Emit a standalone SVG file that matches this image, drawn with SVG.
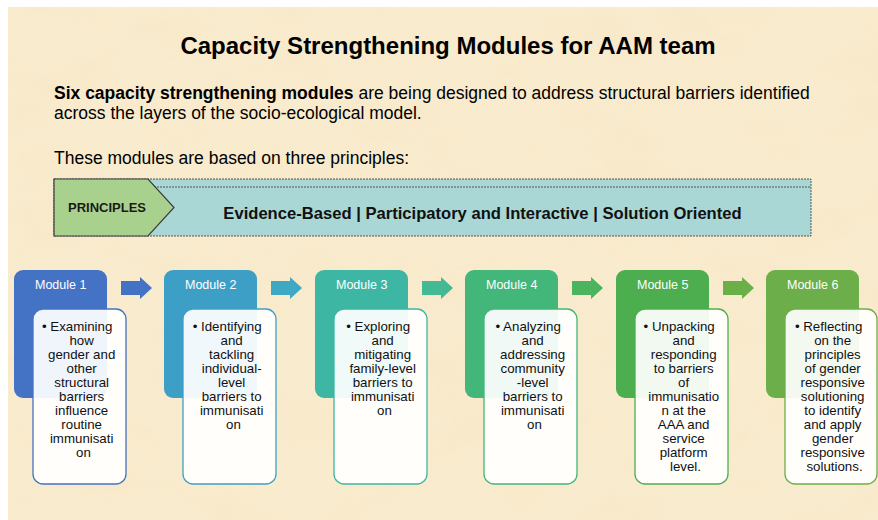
<svg xmlns="http://www.w3.org/2000/svg" width="878" height="520" viewBox="0 0 878 520">
  <defs>
    <!-- mottled parchment texture -->
    <filter id="paper" x="0" y="0" width="100%" height="100%">
      <feTurbulence type="fractalNoise" baseFrequency="0.012 0.02" numOctaves="4" seed="7" result="n"/>
      <feColorMatrix in="n" type="matrix" values="0 0 0 0 0.91  0 0 0 0 0.78  0 0 0 0 0.56  1.8 0 0 0 -0.75"/>
    </filter>
    <style>
      .sans { font-family: "Liberation Sans", Arial, sans-serif; }
      .title { font-size: 24px; font-weight: bold; fill: #000; }
      .para { font-size: 17.5px; fill: #000; }
      .b { font-weight: bold; }
      .band { fill: #a9d7d5; stroke: #555; stroke-width: 1; stroke-dasharray: 2 1; }
      .tag { fill: #a9d18e; stroke: #3c3c3c; stroke-width: 1.2; }
      .tagtext { font-size: 13px; font-weight: bold; fill: #1a1a1a; }
      .bandtext { font-size: 16.6px; font-weight: bold; fill: #111; }
      .head { stroke: none; }
      .mlabel { font-size: 12.5px; fill: #fff; }
      .card { fill: #fff; fill-opacity: 0.92; stroke-width: 1.3; }
      .body { font-size: 13.3px; fill: #111; text-anchor: middle; }
    </style>
  </defs>

  <!-- page -->
  <rect x="0" y="0" width="878" height="520" fill="#fff"/>
  <rect x="8" y="7" width="870" height="513" fill="#f9ebcd"/>
  <rect x="8" y="7" width="870" height="513" filter="url(#paper)" opacity="0.45"/>

  <!-- heading and intro -->
  <text class="sans title" x="448" y="54" text-anchor="middle">Capacity Strengthening Modules for AAM team</text>
  <text class="sans para" x="54" y="99"><tspan class="b">Six capacity strengthening modules</tspan> are being designed to address structural barriers identified</text>
  <text class="sans para" x="54" y="119">across the layers of the socio-ecological model.</text>
  <text class="sans para" x="54" y="164">These modules are based on three principles:</text>

  <!-- principles band -->
  <g id="principles">
    <rect class="band" x="54" y="179" width="757" height="57"/>
    <line x1="148" y1="187" x2="811" y2="187" stroke="#555" stroke-width="1" stroke-dasharray="2 1"/>
    <polygon class="tag" points="54,179 148,179 174,207.5 148,236 54,236"/>
    <text class="sans tagtext" x="68" y="212">PRINCIPLES</text>
    <text class="sans bandtext" x="482.5" y="219" text-anchor="middle">Evidence-Based | Participatory and Interactive | Solution Oriented</text>
  </g>

  <!-- arrows between modules -->
  <g id="connectors">
    <path class="head" fill="#4472c4" d="M121,281 H140 V277 L152,288 L140,299 V295 H121 Z"/>
    <path class="head" fill="#3fa9c4" d="M271,281 H290 V277 L302,288 L290,299 V295 H271 Z"/>
    <path class="head" fill="#43ba94" d="M422,281 H441 V277 L453,288 L441,299 V295 H422 Z"/>
    <path class="head" fill="#4bb45e" d="M572,281 H591 V277 L603,288 L591,299 V295 H572 Z"/>
    <path class="head" fill="#6aaf48" d="M723,281 H742 V277 L754,288 L742,299 V295 H723 Z"/>
  </g>

  <!-- module 1 -->
  <g id="module1">
    <rect x="14" y="270" width="93" height="128" rx="9" fill="#4472c4"/>
    <text class="sans mlabel" x="35" y="289">Module 1</text>
    <rect class="card" x="33" y="309" width="93" height="175" rx="10" stroke="#4472c4"/>
    <text class="sans body">
      <tspan x="79" y="331">• Examining</tspan>
      <tspan x="83.5" y="345">how</tspan>
      <tspan x="83.5" y="359">gender and</tspan>
      <tspan x="83.5" y="373">other</tspan>
      <tspan x="83.5" y="387">structural</tspan>
      <tspan x="83.5" y="401">barriers</tspan>
      <tspan x="83.5" y="415">influence</tspan>
      <tspan x="83.5" y="429">routine</tspan>
      <tspan x="83.5" y="443">immunisati</tspan>
      <tspan x="83.5" y="457">on</tspan>
    </text>
  </g>

  <!-- module 2 -->
  <g id="module2">
    <rect x="164" y="270" width="93" height="128" rx="9" fill="#3e9fc6"/>
    <text class="sans mlabel" x="185" y="289">Module 2</text>
    <rect class="card" x="183" y="309" width="93" height="175" rx="10" stroke="#3e9fc6"/>
    <text class="sans body">
      <tspan x="229" y="331">• Identifying</tspan>
      <tspan x="233.5" y="345">and</tspan>
      <tspan x="233.5" y="359">tackling</tspan>
      <tspan x="233.5" y="373">individual-</tspan>
      <tspan x="233.5" y="387">level</tspan>
      <tspan x="233.5" y="401">barriers to</tspan>
      <tspan x="233.5" y="415">immunisati</tspan>
      <tspan x="233.5" y="429">on</tspan>
    </text>
  </g>

  <!-- module 3 -->
  <g id="module3">
    <rect x="315" y="270" width="93" height="128" rx="9" fill="#3db7a3"/>
    <text class="sans mlabel" x="336" y="289">Module 3</text>
    <rect class="card" x="334" y="309" width="93" height="175" rx="10" stroke="#3db7a3"/>
    <text class="sans body">
      <tspan x="380" y="331">• Exploring</tspan>
      <tspan x="384.5" y="345">and</tspan>
      <tspan x="384.5" y="359">mitigating</tspan>
      <tspan x="384.5" y="373">family-level</tspan>
      <tspan x="384.5" y="387">barriers to</tspan>
      <tspan x="384.5" y="401">immunisati</tspan>
      <tspan x="384.5" y="415">on</tspan>
    </text>
  </g>

  <!-- module 4 -->
  <g id="module4">
    <rect x="465" y="270" width="93" height="128" rx="9" fill="#43b67a"/>
    <text class="sans mlabel" x="486" y="289">Module 4</text>
    <rect class="card" x="484" y="309" width="93" height="175" rx="10" stroke="#43b67a"/>
    <text class="sans body">
      <tspan x="530" y="331">• Analyzing</tspan>
      <tspan x="534.5" y="345">and</tspan>
      <tspan x="534.5" y="359">addressing</tspan>
      <tspan x="534.5" y="373">community</tspan>
      <tspan x="534.5" y="387">-level</tspan>
      <tspan x="534.5" y="401">barriers to</tspan>
      <tspan x="534.5" y="415">immunisati</tspan>
      <tspan x="534.5" y="429">on</tspan>
    </text>
  </g>

  <!-- module 5 -->
  <g id="module5">
    <rect x="616" y="270" width="93" height="128" rx="9" fill="#4dae4f"/>
    <text class="sans mlabel" x="637" y="289">Module 5</text>
    <rect class="card" x="635" y="309" width="93" height="175" rx="10" stroke="#4dae4f"/>
    <text class="sans body">
      <tspan x="681" y="331">• Unpacking</tspan>
      <tspan x="685.5" y="345">and</tspan>
      <tspan x="685.5" y="359">responding</tspan>
      <tspan x="685.5" y="373">to barriers</tspan>
      <tspan x="685.5" y="387">of</tspan>
      <tspan x="685.5" y="401">immunisatio</tspan>
      <tspan x="685.5" y="415">n at the</tspan>
      <tspan x="685.5" y="429">AAA and</tspan>
      <tspan x="685.5" y="443">service</tspan>
      <tspan x="685.5" y="457">platform</tspan>
      <tspan x="685.5" y="471">level.</tspan>
    </text>
  </g>

  <!-- module 6 -->
  <g id="module6">
    <rect x="766" y="270" width="93" height="128" rx="9" fill="#6cae4a"/>
    <text class="sans mlabel" x="787" y="289">Module 6</text>
    <rect class="card" x="785" y="309" width="92" height="175" rx="10" stroke="#6cae4a"/>
    <text class="sans body">
      <tspan x="830.5" y="331">• Reflecting</tspan>
      <tspan x="834.5" y="345">on the</tspan>
      <tspan x="834.5" y="359">principles</tspan>
      <tspan x="834.5" y="373">of gender</tspan>
      <tspan x="834.5" y="387">responsive</tspan>
      <tspan x="834.5" y="401">solutioning</tspan>
      <tspan x="834.5" y="415">to identify</tspan>
      <tspan x="834.5" y="429">and apply</tspan>
      <tspan x="834.5" y="443">gender</tspan>
      <tspan x="834.5" y="457">responsive</tspan>
      <tspan x="834.5" y="471">solutions.</tspan>
    </text>
  </g>
</svg>
